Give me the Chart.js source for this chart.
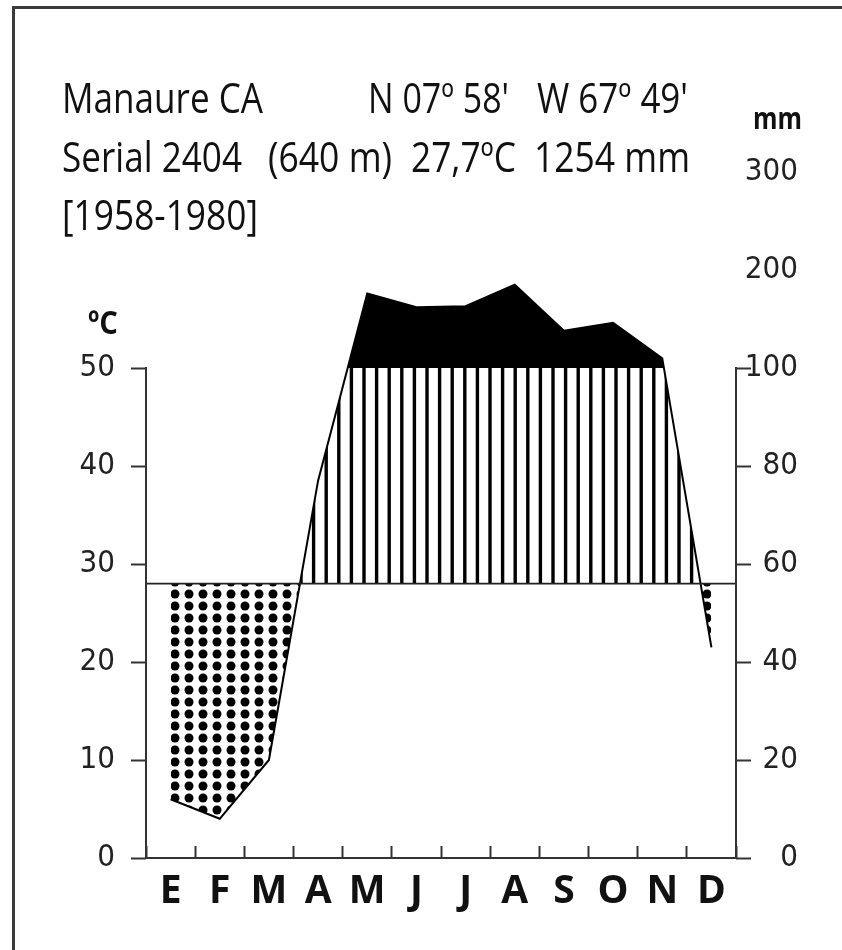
<!DOCTYPE html>
<html>
<head>
<meta charset="utf-8">
<script src="https://cdn.jsdelivr.net/npm/chart.js@4.4.0/dist/chart.umd.min.js"></script>
<style>
  html, body { margin: 0; padding: 0; background: #fff; }
  #wrap { width: 842px; height: 950px; }
</style>
</head>
<body>
<div id="wrap"><canvas id="climateChart" width="842" height="950"></canvas></div>
<script>
// Climate diagram - Manaure CA (Walter-Lieth style)
const months = ['E', 'F', 'M', 'A', 'M', 'J', 'J', 'A', 'S', 'O', 'N', 'D'];
const temperature = [28, 28, 28, 28, 28, 28, 28, 28, 28, 28, 28, 28]; // °C
const precipitation = [12, 8, 20, 77, 176, 162, 163, 185, 138, 146, 110, 43]; // mm
const tempTicks = [0, 10, 20, 30, 40, 50];
const rainTicks = [0, 20, 40, 60, 80, 100, 200, 300];

// 20 mm = 10 °C up to 100 mm, above that 100 mm = 10 °C
function rainToAxis(mm) {
    return mm <= 100 ? mm / 2 : 50 + (mm - 100) / 10;
}

const headerTexts = [
    { text: 'Manaure CA', x: 62, y: 113, w: 201 },
    { text: 'N 07º 58\'', x: 368, y: 113, w: 141 },
    { text: 'W 67º 49\'', x: 537, y: 113, w: 151 },
    { text: 'Serial 2404', x: 62, y: 172, w: 180 },
    { text: '(640 m)', x: 268, y: 172, w: 124 },
    { text: '27,7ºC', x: 411, y: 172, w: 105 },
    { text: '1254 mm', x: 534, y: 172, w: 156 },
    { text: '[1958-1980]', x: 62, y: 230, w: 196 }
];

const canvas = document.getElementById('climateChart');
const ctx = canvas.getContext('2d');

// fill patterns
function makeDots() {
    const c = document.createElement('canvas');
    c.width = 14; c.height = 12;
    const g = c.getContext('2d');
    g.fillStyle = '#000';
    g.beginPath();
    g.arc(7, 6, 4.5, 0, Math.PI * 2);
    g.fill();
    return ctx.createPattern(c, 'repeat');
}
function makeHatch() {
    const c = document.createElement('canvas');
    c.width = 63; c.height = 4;
    const g = c.getContext('2d');
    g.fillStyle = '#000';
    for (let k = -1; k < 6; k++) {
        g.fillRect(11.2 + 12.6 * k - 1.7, 0, 3.4, 4);
    }
    return ctx.createPattern(c, 'repeat');
}

function fitText(c, str, x, y, w) {
    const m = c.measureText(str).width;
    c.save();
    c.translate(x, y);
    c.scale(w / m, 1);
    c.fillText(str, 0, 0);
    c.restore();
}

const decorations = {
    id: 'decorations',
    beforeDraw(chart) {
        const c = chart.ctx;
        c.save();
        c.fillStyle = '#fff';
        c.fillRect(0, 0, chart.width, chart.height);
        c.fillStyle = '#3a3a3a';
        c.fillRect(12, 6, 3, chart.height);
        c.fillRect(12, 6, chart.width, 3);
        c.restore();
    },
    afterDraw(chart) {
        const c = chart.ctx;
        const { x, y, y2 } = chart.scales;
        c.save();
        c.strokeStyle = '#333';
        c.lineWidth = 2;
        c.beginPath();
        c.moveTo(x.left, y.getPixelForValue(0) + 1);
        c.lineTo(x.left, y.getPixelForValue(50) - 1);
        c.moveTo(x.right, y2.getPixelForValue(0) + 1);
        c.lineTo(x.right, y2.getPixelForValue(50) - 1);
        c.stroke();

        c.fillStyle = '#111';
        c.textBaseline = 'alphabetic';
        c.font = '42px "Open Sans"';
        headerTexts.forEach(t => fitText(c, t.text, t.x, t.y, t.w));
        c.font = 'bold 30px "Open Sans"';
        fitText(c, 'mm', 753, 129, 49);
        c.font = 'bold 33px "Open Sans"';
        fitText(c, 'ºC', 88, 334, 30);
        c.restore();
    }
};

const tickFont = { family: "'DejaVu Sans Condensed', 'Liberation Sans', sans-serif", size: 31 };

new Chart(ctx, {
    type: 'line',
    data: {
        datasets: [{
            // temperature line, runs to both axes
            data: [{ x: 0, y: temperature[0] }]
                .concat(temperature.map((t, i) => ({ x: i + 0.5, y: t })))
                .concat([{ x: 12, y: temperature[11] }]),
            borderColor: '#222',
            borderWidth: 1.6,
            pointRadius: 0,
            fill: false,
            yAxisID: 'y'
        }, {
            // precipitation line, black above 100 mm
            data: precipitation.map((p, i) => ({ x: i + 0.5, y: rainToAxis(p) })),
            borderColor: '#000',
            borderWidth: 2,
            pointRadius: 0,
            fill: { target: { value: 50 }, above: '#000', below: 'rgba(0,0,0,0)' },
            yAxisID: 'y2'
        }, {
            // humid (hatched) / arid (dotted) areas
            data: precipitation.map((p, i) => ({ x: i + 0.5, y: rainToAxis(p) })),
            borderColor: 'rgba(0,0,0,0)',
            borderWidth: 0,
            pointRadius: 0,
            fill: { target: 3, above: makeHatch(), below: makeDots() },
            yAxisID: 'y2'
        }, {
            data: temperature.map((t, i) => ({ x: i + 0.5, y: t })),
            borderColor: 'rgba(0,0,0,0)',
            borderWidth: 0,
            pointRadius: 0,
            fill: false,
            yAxisID: 'y'
        }]
    },
    options: {
        responsive: false,
        animation: false,
        layout: { padding: { top: 74, left: 0, right: 44, bottom: 0 } },
        plugins: { legend: { display: false }, tooltip: { enabled: false } },
        scales: {
            x: {
                type: 'linear', min: 0, max: 12,
                afterBuildTicks: s => { s.ticks = months.map((m, i) => ({ value: i + 0.5 })); },
                afterFit: s => { s.height = 92; },
                border: { display: true, color: '#333', width: 2 },
                grid: { offset: true, drawOnChartArea: false, drawTicks: true, tickLength: -12, tickWidth: 2, tickColor: '#333' },
                ticks: {
                    callback: (v, i) => months[i],
                    autoSkip: false, maxRotation: 0,
                    padding: 22, color: '#111',
                    font: { family: "'Open Sans', sans-serif", size: 39, weight: 'bold' }
                }
            },
            y: {
                type: 'linear', position: 'left', min: 0, max: 80,
                afterBuildTicks: s => { s.ticks = tempTicks.map(v => ({ value: v })); },
                afterFit: s => { s.width = 146; },
                border: { display: false },
                grid: { drawOnChartArea: false, tickLength: 15, tickWidth: 2, tickColor: '#333' },
                ticks: { padding: 16, color: '#222', font: tickFont }
            },
            y2: {
                type: 'linear', position: 'right', min: 0, max: 80,
                afterBuildTicks: s => { s.ticks = rainTicks.map(v => ({ value: rainToAxis(v) })); },
                afterFit: s => { s.width = 62; },
                border: { display: false },
                grid: {
                    drawOnChartArea: false, tickLength: 15, tickWidth: 2,
                    tickColor: c => (c.tick && c.tick.value > 50 ? 'rgba(0,0,0,0)' : '#333')
                },
                ticks: {
                    callback: (v, i) => String(rainTicks[i]),
                    crossAlign: 'far', padding: 2, color: '#222', font: tickFont
                }
            }
        }
    },
    plugins: [decorations]
});
</script>
</body>
</html>
